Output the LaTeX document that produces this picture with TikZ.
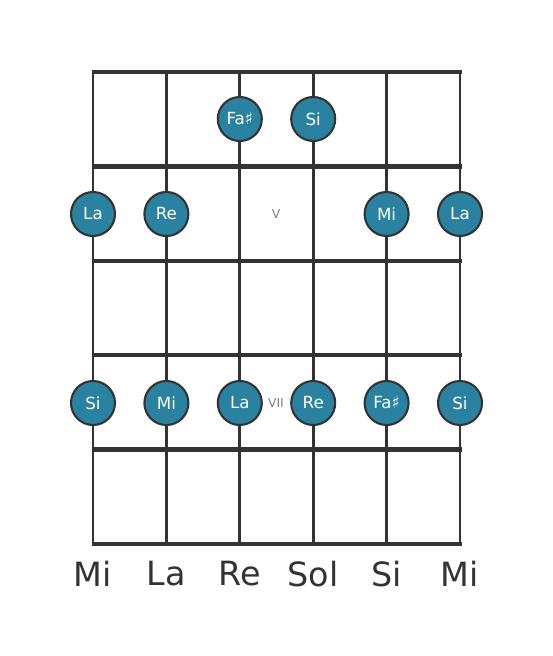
\documentclass[tikz,border=0pt]{standalone}
\usepackage{fontspec}
\setmainfont{DejaVu Sans}
\definecolor{dotblue}{RGB}{42,130,160}
\definecolor{gridgray}{RGB}{51,51,51}
\tikzset{
  fret/.style = {line width=2.6pt, color=gridgray},
  string/.style = {line width=1.6pt, color=gridgray},
  notedot/.style = {circle, fill=dotblue, draw=gridgray, line width=1.2pt,
    minimum size=0.88cm, inner sep=0pt, text=white, font=\fontsize{9.5}{11}\selectfont},
  fretnum/.style = {text=gray, font=\fontsize{7}{8}\selectfont},
  openname/.style = {text=gridgray, font=\fontsize{19}{22}\selectfont}
}
\begin{document}
\begin{tikzpicture}[x=0.02cm, y=-0.02cm]
   \useasboundingbox (0,0) rectangle (553,656);
   % strings
   \foreach \s in {0,...,5}
      \draw[string] (93+73.4*\s, 72) -- (93+73.4*\s, 544);
   % frets
   \foreach \f in {0,...,5}
      \draw[fret] (91.5, 72+94.4*\f) -- (461.5, 72+94.4*\f);
   % fret numbers
   \node[fretnum] (fretV) at (276, 214) {V};
   \node[fretnum] (fretVII) at (276, 403) {VII};
   % notes
   \node[notedot] (n1) at (239.8, 119) {Fa♯};
   \node[notedot] (n2) at (313.2, 119) {Si};
   \node[notedot] (n3) at (93, 214) {La};
   \node[notedot] (n4) at (166.4, 214) {Re};
   \node[notedot] (n5) at (386.6, 214) {Mi};
   \node[notedot] (n6) at (460, 214) {La};
   \node[notedot] (n7) at (93, 403) {Si};
   \node[notedot] (n8) at (166.4, 403) {Mi};
   \node[notedot] (n9) at (239.8, 403) {La};
   \node[notedot] (n10) at (313.2, 403) {Re};
   \node[notedot] (n11) at (386.6, 403) {Fa♯};
   \node[notedot] (n12) at (460, 403) {Si};
   % open strings
   \foreach \name [count=\i from 0] in {Mi,La,Re,Sol,Si,Mi}
      \node[openname] (open\i) at (93+73.4*\i, 574) {\name};
\end{tikzpicture}
\end{document}
